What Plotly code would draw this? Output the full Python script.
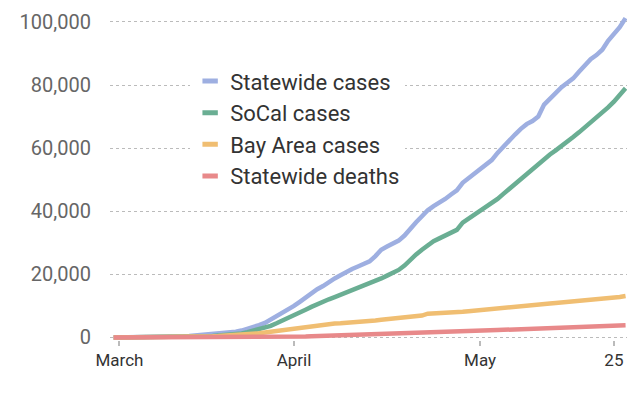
import pandas as pd
import plotly.graph_objects as go

# ---- data (daily, Feb 29 2020 -> May 27 2020) ----
start_date = "2020-02-29"
n_days = 89

statewide_cases = [
    20, 25, 30, 40, 55, 70, 90, 110, 140, 180,
    220, 280, 350, 450, 600, 800, 950, 1100, 1250, 1400,
    1550, 1800, 2200, 2700, 3200, 3900, 4600, 5600, 6700, 7900,
    8900, 10000, 11300, 12700, 14200, 15300, 16300, 17600, 18700, 19700,
    20800, 21700, 22500, 23300, 24100, 25800, 27800, 28800, 29900, 30700,
    32300, 34600, 36500, 38400, 40300, 41600, 42600, 43900, 45300, 46600,
    49000, 50500, 52000, 53500, 54800, 56200, 58500, 60600, 62500, 64300,
    66100, 67600, 68600, 70000, 73800, 75800, 77700, 79300, 80700, 82100,
    84200, 86300, 88200, 89500, 91200, 94000, 95900, 98300, 101200,
]
socal_cases = [
    5, 8, 10, 15, 20, 25, 35, 45, 55, 70,
    90, 110, 140, 180, 230, 300, 380, 470, 580, 700,
    850, 1050, 1300, 1650, 2100, 2600, 3100, 3700, 4500, 5300,
    6100, 7000, 7900, 8800, 9700, 10600, 11300, 12100, 12800, 13500,
    14200, 14900, 15600, 16300, 17000, 17800, 18700, 19600, 20400, 21400,
    22800, 24700, 26300, 27800, 29200, 30500, 31400, 32300, 33200, 34100,
    36400, 37600, 38800, 40000, 41200, 42300, 43900, 45500, 47100, 48700,
    50400, 51900, 53500, 55000, 56600, 58000, 59300, 60600, 62000, 63500,
    65000, 66500, 68100, 69700, 71300, 72900, 74700, 76700, 79000,
]
bay_area_cases = [
    5, 8, 10, 15, 20, 30, 40, 50, 60, 80,
    100, 120, 150, 190, 230, 280, 340, 400, 480, 560,
    650, 760, 880, 1050, 1200, 1350, 1550, 1800, 2100, 2450,
    2750, 3000, 3200, 3400, 3600, 3800, 4000, 4200, 4400, 4500,
    4600, 4750, 4900, 5050, 5200, 5400, 5600, 5750, 5950, 6150,
    6350, 6550, 6800, 6950,
    7550, 7600, 7620, 7700, 7850, 8000, 8150, 8300, 8500, 8700,
    8900, 9100, 9300, 9500, 9700, 9850, 10000, 10150, 10300, 10450,
    10600, 10750, 10900, 11050, 11150, 11300, 11450, 11600, 11750, 11900,
    12100, 12300, 12550, 12850, 13150,
]
statewide_deaths = [
    0, 0, 0, 0, 1, 1, 1, 2, 3, 4, 5, 6, 8, 10, 12, 15, 18, 22, 27, 33, 40,
    50, 60, 75, 90, 105, 120, 140, 160, 185, 210,
    240, 280, 320, 370, 420, 480, 540, 600, 660, 720,
    780, 840, 900, 960, 1020, 1080, 1140, 1200, 1260, 1320,
    1380, 1440, 1500, 1560, 1620, 1680, 1750, 1820, 1880, 1940,
    2000, 2050,
    2100, 2180, 2260, 2340, 2420, 2500, 2580, 2650,
    2720, 2790, 2860, 2930, 3000, 3080, 3150,
    3220, 3290, 3360, 3430, 3500, 3570, 3640, 3710, 3780, 3840, 3900,
]

series_names = ["Statewide cases", "SoCal cases", "Bay Area cases", "Statewide deaths"]
series_colors = ["#9eafe1", "#6aae93", "#f0be72", "#e8898a"]

x_tick_vals = ["2020-03-01", "2020-03-31", "2020-05-02", "2020-05-25"]
x_tick_text = ["March", "April", "May", "25"]
y_tick_vals = [0, 20000, 40000, 60000, 80000, 100000]
y_tick_text = ["0", "20,000", "40,000", "60,000", "80,000", "100,000"]

dates = pd.date_range(start_date, periods=n_days)
all_series = [statewide_cases, socal_cases, bay_area_cases, statewide_deaths]
for s in all_series:
    assert len(s) == n_days, len(s)

fig = go.Figure()
# cases first, deaths last (on top near the baseline)
for name, vals, col in zip(series_names, all_series, series_colors):
    fig.add_trace(go.Scatter(
        x=dates, y=vals, mode="lines", name=name,
        line=dict(color=col, width=4.5), showlegend=False,
        hoverinfo="skip",
    ))
# legend entries (short swatches)
for name, col in zip(series_names, series_colors):
    fig.add_trace(go.Scatter(
        x=[None], y=[None], mode="markers", name=name,
        marker=dict(symbol="line-ew", size=11, color=col,
                    line=dict(color=col, width=5)),
        showlegend=True,
    ))

fig.update_layout(
    width=640, height=396,
    margin=dict(l=110, r=13, t=10, b=56),
    paper_bgcolor="white", plot_bgcolor="white",
    font=dict(family="Roboto, sans-serif", color="#333333"),
    showlegend=True,
    legend=dict(
        x=0.155, y=0.858, xanchor="left", yanchor="top",
        bgcolor="white", borderwidth=0,
        font=dict(size=22, color="#333333"),
        traceorder="normal",
    ),
    xaxis=dict(
        type="date",
        range=["2020-02-28 09:00", "2020-05-27 06:00"],
        tickvals=x_tick_vals, ticktext=x_tick_text,
        showgrid=False, zeroline=False, showline=False,
        ticks="outside", ticklen=5, tickwidth=2, tickcolor="#bbbbbb",
        tickfont=dict(size=17, color="#333333"),
    ),
    yaxis=dict(
        range=[-800, 102500],
        tickvals=y_tick_vals, ticktext=y_tick_text,
        showgrid=True, gridcolor="#bbbbbb", gridwidth=1, griddash="dot",
        zeroline=False, showline=False, ticks="",
        ticklabelstandoff=18,
        tickfont=dict(size=20, color="#666666"),
    ),
)

fig.write_html(
    "out.html",
    config={"displayModeBar": False, "staticPlot": True},
    post_script="document.body.style.margin='0';",
)
